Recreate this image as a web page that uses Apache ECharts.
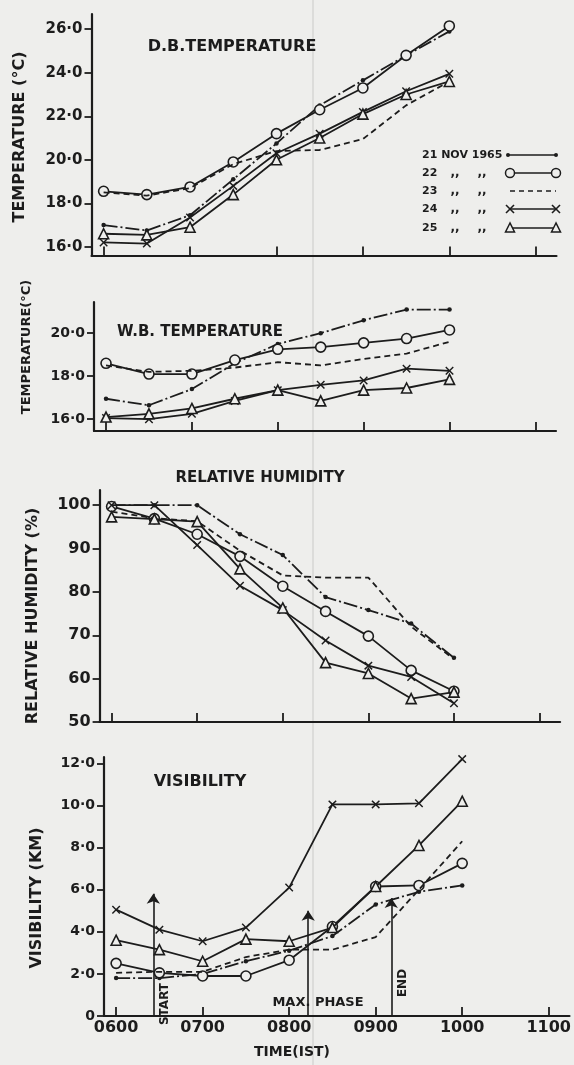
<!DOCTYPE html>
<html>
<head>
<meta charset="utf-8">
<script src="https://cdn.jsdelivr.net/npm/echarts@6/dist/echarts.min.js"></script>
<style>
html,body{margin:0;padding:0;background:#eeeeec;}
#c{width:574px;height:1065px;}
</style>
</head>
<body>
<div id="c"></div>
<script>
// ---------- DATA ----------
const TIMES = [6, 6.5, 7, 7.5, 8, 8.5, 9, 9.5, 10];           // hours (IST)
const DAYS = ['21 NOV 1965', '22 NOV 1965', '23 NOV 1965', '24 NOV 1965', '25 NOV 1965'];
const LEGEND_DAY = ['21 NOV 1965', '22', '23', '24', '25'];

// Dry-bulb temperature (°C)
const DB_21 = [17.0, 16.75, 17.45, 19.1, 20.75, 22.5, 23.65, 24.8, 25.9];
const DB_22 = [18.55, 18.4, 18.75, 19.9, 21.2, 22.3, 23.3, 24.8, 26.15];
const DB_23 = [18.5, 18.35, 18.7, 19.8, 20.4, 20.45, 20.95, 22.5, 23.6];
const DB_24 = [16.2, 16.15, 17.35, 18.8, 20.3, 21.2, 22.2, 23.15, 23.95];
const DB_25 = [16.6, 16.55, 16.9, 18.4, 20.0, 21.0, 22.1, 23.0, 23.6];

// Wet-bulb temperature (°C)
const WB_21 = [16.95, 16.65, 17.4, 18.6, 19.5, 20.0, 20.6, 21.1, 21.1];
const WB_22 = [18.6, 18.1, 18.1, 18.75, 19.25, 19.35, 19.55, 19.75, 20.15];
const WB_23 = [18.5, 18.2, 18.25, 18.4, 18.65, 18.5, 18.8, 19.05, 19.6];
const WB_24 = [16.05, 16.0, 16.25, 16.85, 17.35, 17.6, 17.8, 18.35, 18.25];
const WB_25 = [16.1, 16.25, 16.5, 16.95, 17.35, 16.85, 17.35, 17.45, 17.85];

// Relative humidity (%)
const RH_21 = [100, 100, 100, 93.3, 88.5, 78.8, 75.8, 72.7, 64.8];
const RH_22 = [99.7, 96.9, 93.3, 88.2, 81.3, 75.5, 69.8, 61.9, 57.1];
const RH_23 = [98.5, 97.0, 96.3, 89.5, 83.8, 83.3, 83.3, 72.0, 64.5];
const RH_24 = [100, 100, 90.8, 81.4, 75.8, 68.8, 63.0, 60.4, 54.3];
const RH_25 = [97.3, 96.8, 96.2, 85.3, 76.3, 63.7, 61.2, 55.4, 56.9];

// Visibility (km)
const VIS_21 = [1.8, 1.8, 2.0, 2.6, 3.1, 3.8, 5.3, 5.9, 6.2];
const VIS_22 = [2.5, 2.05, 1.9, 1.9, 2.65, 4.25, 6.15, 6.2, 7.25];
const VIS_23 = [2.05, 2.1, 2.1, 2.8, 3.15, 3.15, 3.75, 6.0, 8.3];
const VIS_24 = [5.05, 4.1, 3.55, 4.2, 6.1, 10.05, 10.05, 10.1, 12.2];
const VIS_25 = [3.6, 3.15, 2.6, 3.65, 3.55, 4.2, 6.15, 8.1, 10.2];

// Fog phases (time in hours, arrow top in km)
const EVENT_NAMES = ['START', 'MAX. PHASE', 'END'];
const EVENT_TIME = [6.43, 8.22, 9.18];
const EVENT_TOP = [5.8, 5.0, 5.6];

// Ticks
const X_TICKS = [6, 7, 8, 9, 10, 11];
const X_TICK_LABELS = ['0600', '0700', '0800', '0900', '1000', '1100'];
const DB_TICKS = [16, 18, 20, 22, 24, 26];
const WB_TICKS = [16, 18, 20];
const RH_TICKS = [50, 60, 70, 80, 90, 100];
const VIS_TICKS = [0, 2, 4, 6, 8, 10, 12];

// ---------- STYLE / LAYOUT ----------
const INK = '#1c1c1c';
const BG = '#eeeeec';
const FONT = 'DejaVu Sans';
const XPATH = 'path://M0,1.2L1.2,0L5,3.8L8.8,0L10,1.2L6.2,5L10,8.8L8.8,10L5,6.2L1.2,10L0,8.8L3.8,5Z';

const dec = v => v.toFixed(1).replace('.', '·');

const PANELS = [
  { grid: {left: 91.5, top: 14, width: 465, height: 241.5}, ymin: 15.6, ymax: 26.7, ticks: DB_TICKS, fmt: dec, fs: 15,
    data: [DB_21, DB_22, DB_23, DB_24, DB_25] },
  { grid: {left: 94, top: 302, width: 462, height: 129}, ymin: 15.45, ymax: 21.45, ticks: WB_TICKS, fmt: dec, fs: 14,
    data: [WB_21, WB_22, WB_23, WB_24, WB_25] },
  { grid: {left: 99.6, top: 490, width: 460.5, height: 232}, ymin: 50, ymax: 103.5, ticks: RH_TICKS, fmt: v => String(v), fs: 16,
    data: [RH_21, RH_22, RH_23, RH_24, RH_25] },
  { grid: {left: 104, top: 757, width: 466, height: 259}, ymin: 0, ymax: 12.3, ticks: VIS_TICKS, fmt: v => (v === 0 ? '0' : dec(v)), fs: 14,
    data: [VIS_21, VIS_22, VIS_23, VIS_24, VIS_25] }
];

const DAY_STYLE = [
  {symbol: 'circle', size: 4.5, fill: INK, bw: 0, dash: [14, 3, 2, 3]},
  {symbol: 'circle', size: 10, fill: BG, bw: 1.6, dash: 'solid'},
  {symbol: 'none', size: 0, fill: INK, bw: 0, dash: [6, 4]},
  {symbol: XPATH, size: 8.5, fill: INK, bw: 0, dash: 'solid'},
  {symbol: 'triangle', size: 10, fill: BG, bw: 1.6, dash: 'solid'}
];

const grids = [], xAxes = [], yAxes = [], series = [];
PANELS.forEach((p, pi) => {
  grids.push(Object.assign({containLabel: false}, p.grid));
  xAxes.push({
    type: 'value', gridIndex: pi, min: 5.86, max: 11.24,
    axisLine: {show: true, onZero: false, lineStyle: {color: INK, width: 2.2}},
    axisTick: {show: true, inside: true, length: 9, customValues: X_TICKS, lineStyle: {color: INK, width: 1.8}},
    axisLabel: {show: pi === 3, customValues: X_TICKS, margin: 4, color: INK, fontFamily: FONT, fontSize: 16, fontWeight: 'bold',
      formatter: v => X_TICK_LABELS[X_TICKS.indexOf(v)]},
    splitLine: {show: false}
  });
  yAxes.push({
    type: 'value', gridIndex: pi, min: p.ymin, max: p.ymax,
    axisLine: {show: true, onZero: false, lineStyle: {color: INK, width: 2.2}},
    axisTick: {show: true, inside: false, length: 7, customValues: p.ticks, lineStyle: {color: INK, width: 1.8}},
    axisLabel: {show: true, customValues: p.ticks, margin: 9, color: INK, fontFamily: FONT, fontSize: p.fs, fontWeight: 'bold', formatter: p.fmt},
    splitLine: {show: false}
  });
  p.data.forEach((vals, di) => {
    const st = DAY_STYLE[di];
    const s = {
      type: 'line', name: DAYS[di], xAxisIndex: pi, yAxisIndex: pi,
      data: TIMES.map((t, i) => [t, vals[i]]),
      symbol: st.symbol, symbolSize: st.size, showSymbol: st.symbol !== 'none',
      itemStyle: {color: st.fill, borderColor: INK, borderWidth: st.bw},
      lineStyle: {color: INK, width: 1.8, type: st.dash},
      z: 2 + di, silent: true, animation: false
    };
    if (pi === 3 && di === 3) {
      s.markLine = {
        silent: true, animation: false, symbol: ['none', 'arrow'], symbolSize: 10,
        lineStyle: {color: INK, width: 1.6, type: 'solid'},
        label: {show: false},
        data: EVENT_TIME.map((t, i) => [{coord: [t, 0]}, {coord: [t, EVENT_TOP[i]]}])
      };
    }
    series.push(s);
  });
});

// ---------- TEXT & LEGEND (graphic) ----------
const txt = (text, x, y, fs, rot) => ({
  type: 'text', x: x, y: y, rotation: rot || 0, silent: true,
  style: {text: text, fill: INK, font: `bold ${fs}px "${FONT}"`, align: 'center', verticalAlign: 'middle'}
});
const R = Math.PI / 2;
const graphics = [
  {type: 'line', silent: true, z: -1, shape: {x1: 313, y1: 0, x2: 313, y2: 1065}, style: {stroke: '#d6d6d4', lineWidth: 1.5}},
  txt('D.B.TEMPERATURE', 232, 47, 16),
  txt('W.B. TEMPERATURE', 200, 332, 15),
  txt('RELATIVE HUMIDITY', 260, 478, 15),
  txt('VISIBILITY', 200, 782, 16),
  txt('TEMPERATURE (°C)', 20, 137, 16, R),
  txt('TEMPERATURE(°C)', 27, 347, 13, R),
  txt('RELATIVE HUMIDITY (%)', 33, 616, 16, R),
  txt('VISIBILITY (KM)', 37, 898, 16, R),
  txt('TIME(IST)', 292, 1052, 14),
  txt(EVENT_NAMES[0], 165, 1004, 12, R),
  txt(EVENT_NAMES[1], 318, 1003, 13),
  txt(EVENT_NAMES[2], 403, 983, 12, R)
];

// legend
const LEG_Y = [155, 173, 191, 209, 228];
LEG_Y.forEach((y, i) => {
  graphics.push({type: 'text', x: 422, y: y, silent: true,
    style: {text: LEGEND_DAY[i], fill: INK, font: `bold 11px "${FONT}"`, align: 'left', verticalAlign: 'middle'}});
  if (i > 0) {
    graphics.push({type: 'text', x: 455, y: y, silent: true,
      style: {text: ',,', fill: INK, font: `bold 12px "${FONT}"`, align: 'center', verticalAlign: 'middle'}});
    graphics.push({type: 'text', x: 482, y: y, silent: true,
      style: {text: ',,', fill: INK, font: `bold 12px "${FONT}"`, align: 'center', verticalAlign: 'middle'}});
  }
  const x1 = i === 0 ? 508 : 510, x2 = 556;
  graphics.push({type: 'line', silent: true, shape: {x1: x1, y1: y, x2: x2, y2: y},
    style: {stroke: INK, lineWidth: 1.6, lineDash: i === 2 ? [5, 4] : null}});
  [x1, x2].forEach(x => {
    if (i === 0) graphics.push({type: 'circle', silent: true, shape: {cx: x, cy: y, r: 2}, style: {fill: INK}});
    if (i === 1) graphics.push({type: 'circle', silent: true, shape: {cx: x, cy: y, r: 4.5}, style: {fill: BG, stroke: INK, lineWidth: 1.5}});
    if (i === 3) {
      graphics.push({type: 'line', silent: true, shape: {x1: x - 4, y1: y - 4, x2: x + 4, y2: y + 4}, style: {stroke: INK, lineWidth: 1.6}});
      graphics.push({type: 'line', silent: true, shape: {x1: x - 4, y1: y + 4, x2: x + 4, y2: y - 4}, style: {stroke: INK, lineWidth: 1.6}});
    }
    if (i === 4) graphics.push({type: 'polygon', silent: true, shape: {points: [[x, y - 5], [x - 4.5, y + 4], [x + 4.5, y + 4]]}, style: {fill: BG, stroke: INK, lineWidth: 1.5}});
  });
});

const chart = echarts.init(document.getElementById('c'), null, {renderer: 'canvas'});
chart.setOption({
  backgroundColor: BG,
  animation: false,
  grid: grids, xAxis: xAxes, yAxis: yAxes, series: series,
  graphic: graphics
});
</script>
</body>
</html>
